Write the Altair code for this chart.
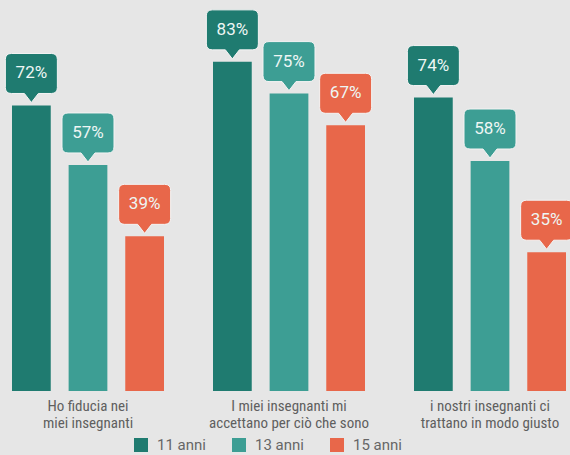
import altair as alt
import pandas as pd

categories = ["Ho fiducia nei|miei insegnanti",
              "I miei insegnanti mi|accettano per ciò che sono",
              "i nostri insegnanti ci|trattano in modo giusto"]
ages = ["11 anni", "13 anni", "15 anni"]
v11 = [72, 83, 74]
v13 = [57, 75, 58]
v15 = [39, 67, 35]
colors = ["#1f7b70", "#3d9e94", "#e8674a"]

rows = []
for i, c in enumerate(categories):
    for a, vals in zip(ages, [v11, v13, v15]):
        rows.append({"cat": c, "age": a, "value": vals[i], "label": f"{vals[i]}%"})
df = pd.DataFrame(rows)

callout = ("M -0.769,-2 L 0.769,-2 Q 1,-2 1,-1.769 L 1,-0.692 Q 1,-0.4615 0.769,-0.4615 "
           "L 0.269,-0.4615 L 0,-0.115 L -0.269,-0.4615 L -0.769,-0.4615 "
           "Q -1,-0.4615 -1,-0.692 L -1,-1.769 Q -1,-2 -0.769,-2 Z")

xenc = alt.X("cat:N", sort=categories, title=None,
             scale=alt.Scale(paddingInner=0.2438, paddingOuter=0.0398, align=0.75),
             axis=alt.Axis(labelAngle=0, domain=False, ticks=False, labelPadding=7,
                           labelExpr="split(datum.label, '|')", labelLineHeight=17,
                           labelFontSize=15, labelColor="#5f5f5f",
                           labelFont="Liberation Sans Narrow, Roboto Condensed, Roboto",
                           labelBaseline="top", labelLimit=300))
xoff = alt.XOffset("age:N", sort=ages, scale=alt.Scale(paddingInner=0.316, paddingOuter=0))
yenc = alt.Y("value:Q", scale=alt.Scale(domain=[0, 98.6]), axis=None)
cenc = alt.Color("age:N", sort=ages, scale=alt.Scale(domain=ages, range=colors),
                 legend=alt.Legend(title=None, orient="none", direction="horizontal",
                                   legendX=133, legendY=437, symbolType="square",
                                   symbolSize=196, symbolOpacity=1, labelFontSize=15,
                                   labelColor="#666666", labelFont="Roboto",
                                   columnPadding=25, labelOffset=8))

base = alt.Chart(df)
bars = base.mark_bar(opacity=1).encode(x=xenc, xOffset=xoff, y=yenc, color=cenc)
boxes = base.mark_point(shape=callout, size=2704, filled=True, opacity=1,
                        stroke="#f4f4f4", strokeWidth=1).encode(
    x=xenc, xOffset=xoff, y=yenc, color=alt.Color("age:N", sort=ages, legend=None,
                                                  scale=alt.Scale(domain=ages, range=colors)))
texts = base.mark_text(dy=-32, fontSize=17, color="#eef6f4", font="Roboto",
                       baseline="middle").encode(x=xenc, xOffset=xoff, y=yenc, text="label:N")

chart = alt.layer(bars, boxes, texts).properties(
    width=570, height=391,
    autosize=alt.AutoSizeParams(type="none"),
    padding={"left": 0, "top": 0, "right": 0, "bottom": 64},
    background="#e6e6e6",
).configure_view(stroke=None)

chart.save("out.html", embed_options={"renderer": "svg", "actions": False})
